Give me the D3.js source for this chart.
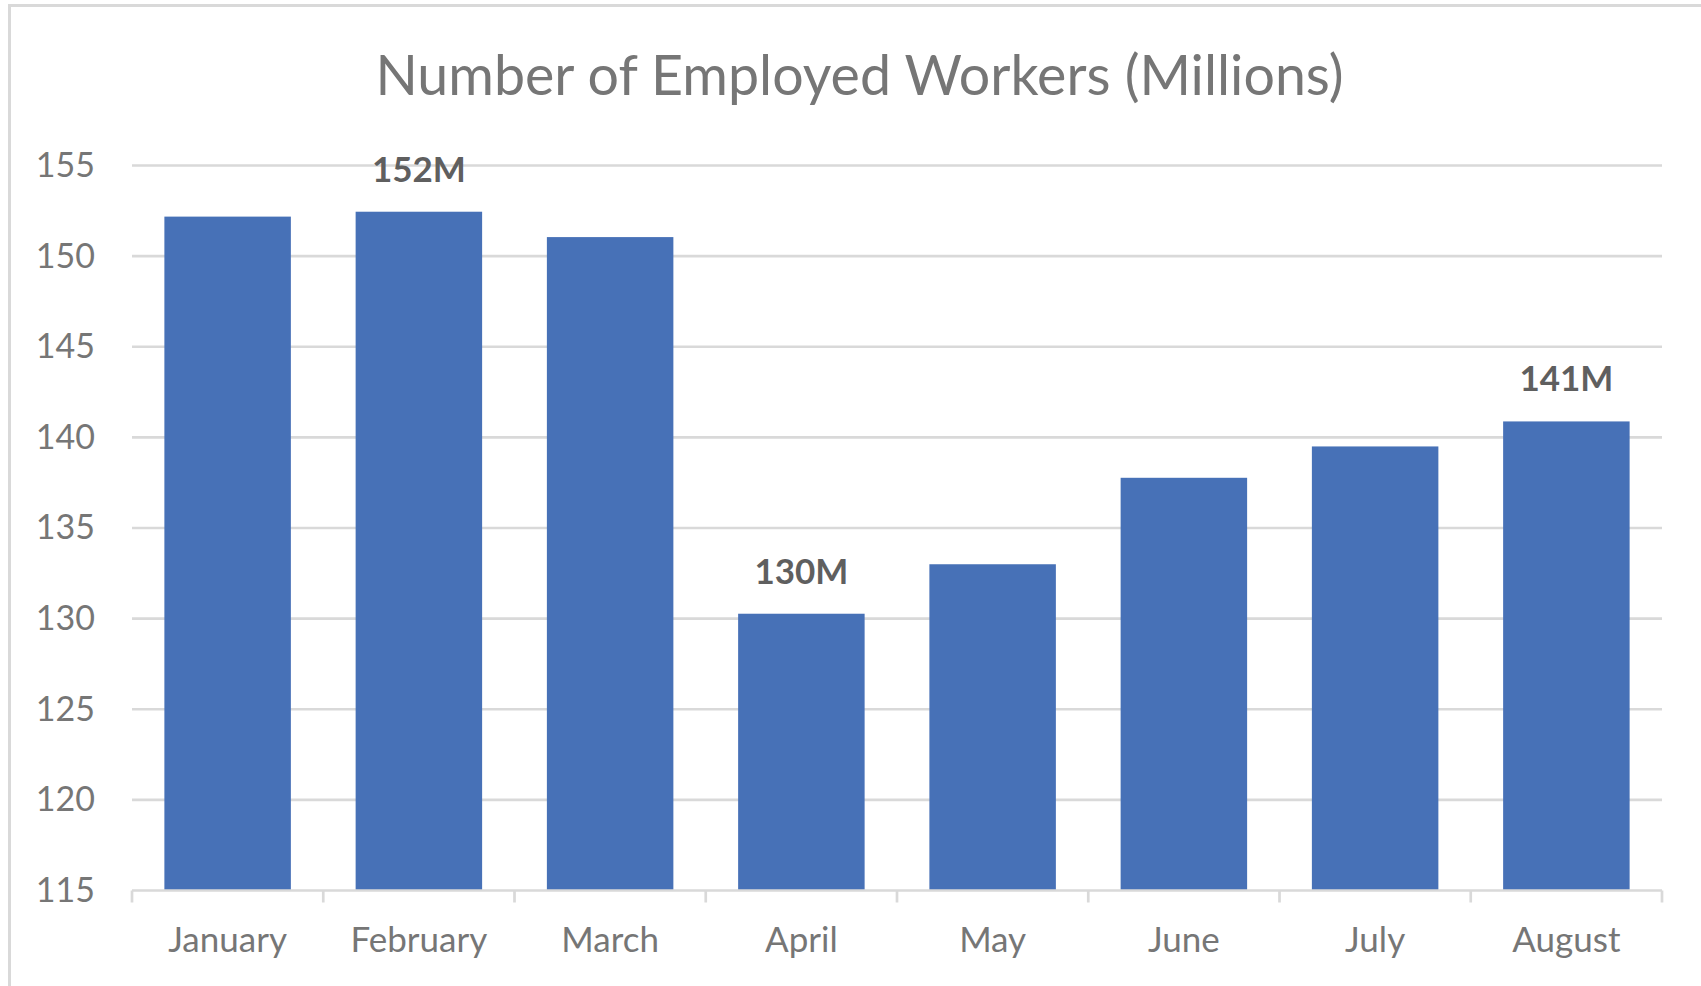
<!DOCTYPE html>
<html>
<head>
<meta charset="utf-8">
<script src="https://cdn.jsdelivr.net/npm/d3@7"></script>
<style>
  html, body { margin: 0; padding: 0; background: #ffffff; overflow: hidden; }
  svg { display: block; }
</style>
</head>
<body>
<svg id="chart" width="1701" height="986"></svg>
<script>
// Monthly employment, millions of workers
const months = ["January", "February", "March", "April", "May", "June", "July", "August"];
const employed = [152.18, 152.45, 151.05, 130.27, 133.0, 137.77, 139.5, 140.88];
const labelledMonths = ["February", "April", "August"];
const yTicks = [115, 120, 125, 130, 135, 140, 145, 150, 155];
const chartTitle = "Number of Employed Workers (Millions)";

const FONT = "Lato, 'Open Sans', sans-serif";
const svg = d3.select("#chart");

// chart frame (runs off the right and bottom edges)
svg.append("rect")
  .attr("x", 9.5).attr("y", 5.5)
  .attr("width", 1800).attr("height", 1100)
  .attr("fill", "#ffffff")
  .attr("stroke", "#d9d9d9").attr("stroke-width", 3);

const plot = { left: 132, right: 1662, top: 165.5, bottom: 890.5 };

const x = d3.scaleBand()
  .domain(months)
  .range([plot.left, plot.right])
  .paddingInner(0.3386)
  .paddingOuter(0.1693);

const y = d3.scaleLinear()
  .domain([115, 155])
  .range([plot.bottom, plot.top]);

// title
svg.append("text")
  .attr("x", 859.5).attr("y", 95)
  .attr("text-anchor", "middle")
  .attr("font-family", FONT)
  .attr("font-size", 55.5)
  .attr("fill", "#767676")
  .text(chartTitle);

// horizontal gridlines
svg.append("g")
  .selectAll("line")
  .data(yTicks.filter(t => t !== 115))
  .join("line")
  .attr("x1", plot.left).attr("x2", plot.right)
  .attr("y1", d => y(d)).attr("y2", d => y(d))
  .attr("stroke", "#d9d9d9").attr("stroke-width", 2.7);

// y axis labels
const yAxis = d3.axisLeft(y).tickValues(yTicks).tickSize(0).tickPadding(0);
const yG = svg.append("g")
  .attr("transform", `translate(95,0)`)
  .call(yAxis);
yG.select(".domain").remove();
yG.selectAll("text")
  .attr("font-family", FONT)
  .attr("font-size", 34)
  .attr("fill", "#767676");

// bars
const data = months.map((m, i) => ({ month: m, value: employed[i] }));
svg.append("g")
  .selectAll("rect")
  .data(data)
  .join("rect")
  .attr("x", d => x(d.month))
  .attr("y", d => y(d.value))
  .attr("width", x.bandwidth())
  .attr("height", d => y(115) - y(d.value))
  .attr("fill", "#4771b7");

// category axis with boundary tick marks
const step = x.step();
const boundaries = d3.range(months.length + 1).map(i => plot.left + i * step);
const xG = svg.append("g");
xG.append("line")
  .attr("x1", plot.left).attr("x2", plot.right)
  .attr("y1", plot.bottom).attr("y2", plot.bottom)
  .attr("stroke", "#d9d9d9").attr("stroke-width", 2.7);
xG.selectAll("line.tick")
  .data(boundaries)
  .join("line")
  .attr("class", "tick")
  .attr("x1", d => d).attr("x2", d => d)
  .attr("y1", plot.bottom).attr("y2", plot.bottom + 12)
  .attr("stroke", "#d9d9d9").attr("stroke-width", 2.7);
xG.selectAll("text")
  .data(months)
  .join("text")
  .attr("x", d => x(d) + x.bandwidth() / 2)
  .attr("y", 951.5)
  .attr("text-anchor", "middle")
  .attr("font-family", FONT)
  .attr("font-size", 35)
  .attr("fill", "#767676")
  .text(d => d);

// value labels above selected bars
svg.append("g")
  .selectAll("text")
  .data(data.filter(d => labelledMonths.includes(d.month)))
  .join("text")
  .attr("x", d => x(d.month) + x.bandwidth() / 2)
  .attr("y", d => y(d.value) - 30)
  .attr("text-anchor", "middle")
  .attr("font-family", FONT)
  .attr("font-weight", "bold")
  .attr("font-size", 35)
  .attr("fill", "#5f5f5f")
  .text(d => Math.round(d.value) + "M");
</script>
</body>
</html>
